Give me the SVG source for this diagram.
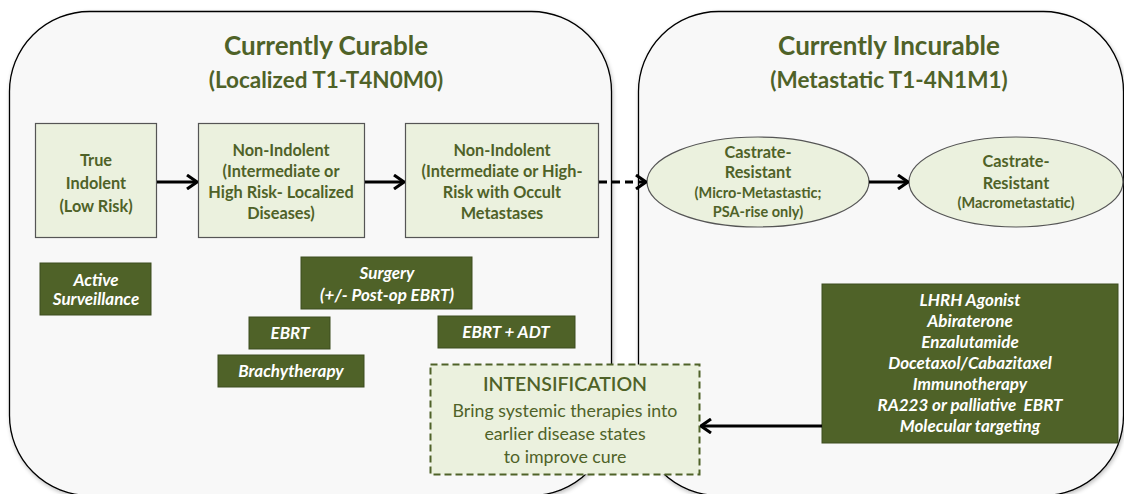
<svg xmlns="http://www.w3.org/2000/svg" width="1124" height="494" viewBox="0 0 1124 494">
  <defs>
    <filter id="shadow" x="-5%" y="-5%" width="110%" height="110%">
      <feGaussianBlur in="SourceAlpha" stdDeviation="2"/>
      <feOffset dx="1" dy="2" result="b"/>
      <feComponentTransfer><feFuncA type="linear" slope="0.25"/></feComponentTransfer>
      <feMerge><feMergeNode/><feMergeNode in="SourceGraphic"/></feMerge>
    </filter>
    <marker id="chev" viewBox="0 0 12 16" refX="11" refY="8" markerWidth="12" markerHeight="16" markerUnits="userSpaceOnUse" orient="auto">
      <path d="M1,1 L11,8 L1,15" fill="none" stroke="#000" stroke-width="3"/>
    </marker>
  </defs>
  <style>
    .panel { fill: #f8f8f8; stroke: #000; stroke-width: 1.3; }
    .stage { fill: #ebf1de; stroke: #555; stroke-width: 1.2; }
    .tx { fill: #4f6228; font-family: Lato, "Open Sans", sans-serif; text-anchor: middle; }
    .title { font-size: 26px; font-weight: bold; }
    .sub { font-size: 22.5px; font-weight: bold; }
    .st { font-size: 16.3px; font-weight: bold; }
    .sm { font-size: 14.5px; font-weight: bold; }
    .therapy { fill: #4f6228; stroke: #3d4d1f; stroke-width: 1; }
    .wt { fill: #fff; font-family: Lato, "Open Sans", sans-serif; font-size: 17px; font-weight: bold; font-style: italic; text-anchor: middle; white-space: pre; }
    .body { font-size: 17.8px; }
    .conn { stroke: #000; stroke-width: 3; fill: none; marker-end: url(#chev); }
  </style>

  <!-- background panels -->
  <g id="panel-curable">
    <rect class="panel" x="9.5" y="11.5" width="602" height="484" rx="80" ry="80" filter="url(#shadow)"/>
    <text class="tx title" x="326" y="55">Currently Curable</text>
    <text class="tx sub" x="326" y="88">(Localized T1-T4N0M0)</text>
  </g>
  <g id="panel-incurable">
    <rect class="panel" x="638.5" y="11.5" width="485" height="484" rx="80" ry="80" filter="url(#shadow)"/>
    <text class="tx title" x="889" y="55">Currently Incurable</text>
    <text class="tx sub" x="889" y="88">(Metastatic T1-4N1M1)</text>
  </g>

  <!-- disease stages -->
  <g id="true-indolent">
    <rect class="stage" x="35.5" y="123.5" width="121" height="114"/>
    <text class="tx st" x="96" y="166">True</text>
    <text class="tx st" x="96" y="189">Indolent</text>
    <text class="tx st" x="96" y="212">(Low Risk)</text>
  </g>
  <g id="non-indolent-localized">
    <rect class="stage" x="198.5" y="123.5" width="166" height="114"/>
    <text class="tx st" x="281" y="156">Non-Indolent</text>
    <text class="tx st" x="281" y="177">(Intermediate or</text>
    <text class="tx st" x="281" y="198">High Risk- Localized</text>
    <text class="tx st" x="281" y="219">Diseases)</text>
  </g>
  <g id="non-indolent-occult">
    <rect class="stage" x="405.5" y="123.5" width="193" height="114"/>
    <text class="tx st" x="502" y="156">Non-Indolent</text>
    <text class="tx st" x="502" y="177">(Intermediate or High-</text>
    <text class="tx st" x="502" y="198">Risk with Occult</text>
    <text class="tx st" x="502" y="219">Metastases</text>
  </g>
  <g id="crpc-micro">
    <ellipse class="stage" cx="758" cy="182" rx="111" ry="45" stroke="#000"/>
    <text class="tx st" x="758" y="158">Castrate-</text>
    <text class="tx st" x="758" y="178">Resistant</text>
    <text class="tx sm" x="758" y="198">(Micro-Metastastic;</text>
    <text class="tx sm" x="758" y="217">PSA-rise only)</text>
  </g>
  <g id="crpc-macro">
    <ellipse class="stage" cx="1016" cy="182" rx="107" ry="45" stroke="#000"/>
    <text class="tx st" x="1016" y="167">Castrate-</text>
    <text class="tx st" x="1016" y="189">Resistant</text>
    <text class="tx sm" x="1016" y="208">(Macrometastatic)</text>
  </g>

  <!-- treatments -->
  <g id="active-surveillance">
    <rect class="therapy" x="40" y="263" width="111" height="52"/>
    <text class="wt" x="96" y="286" font-size="16.5">Active</text>
    <text class="wt" x="96" y="305" font-size="16.5">Surveillance</text>
  </g>
  <g id="surgery">
    <rect class="therapy" x="301" y="257" width="171" height="52"/>
    <text class="wt" x="387" y="279">Surgery</text>
    <text class="wt" x="387" y="301">(+/- Post-op EBRT)</text>
  </g>
  <g id="ebrt">
    <rect class="therapy" x="249" y="317" width="81" height="32"/>
    <text class="wt" x="290" y="339">EBRT</text>
  </g>
  <g id="ebrt-adt">
    <rect class="therapy" x="438" y="316" width="137" height="32"/>
    <text class="wt" x="506" y="338">EBRT + ADT</text>
  </g>
  <g id="brachytherapy">
    <rect class="therapy" x="218" y="355" width="146" height="32"/>
    <text class="wt" x="291" y="377">Brachytherapy</text>
  </g>
  <g id="systemic-therapies">
    <rect class="therapy" x="822" y="284" width="296" height="159"/>
    <text class="wt" x="970" y="306">LHRH Agonist</text>
    <text class="wt" x="970" y="327">Abiraterone</text>
    <text class="wt" x="970" y="348">Enzalutamide</text>
    <text class="wt" x="970" y="369">Docetaxol/Cabazitaxel</text>
    <text class="wt" x="970" y="390">Immunotherapy</text>
    <text class="wt" x="970" y="411">RA223 or palliative  EBRT</text>
    <text class="wt" x="970" y="432">Molecular targeting</text>
  </g>
  <g id="intensification">
    <rect x="430.5" y="364.5" width="269" height="110" fill="#ebf1de" stroke="#4f6228" stroke-width="2" stroke-dasharray="7,4"/>
    <text class="tx" x="565" y="391" font-size="19.5" font-weight="600">INTENSIFICATION</text>
    <text class="tx body" x="565" y="417">Bring systemic therapies into</text>
    <text class="tx body" x="565" y="440">earlier disease states</text>
    <text class="tx body" x="565" y="463">to improve cure</text>
  </g>

  <!-- connectors -->
  <g id="connectors">
    <line class="conn" x1="157" y1="182" x2="197" y2="182"/>
    <line class="conn" x1="365" y1="182" x2="404" y2="182"/>
    <line class="conn" x1="599" y1="182" x2="646" y2="182" stroke-dasharray="8,5"/>
    <line class="conn" x1="869" y1="182" x2="908" y2="182"/>
    <line class="conn" x1="822" y1="426" x2="701" y2="426"/>
  </g>
</svg>
